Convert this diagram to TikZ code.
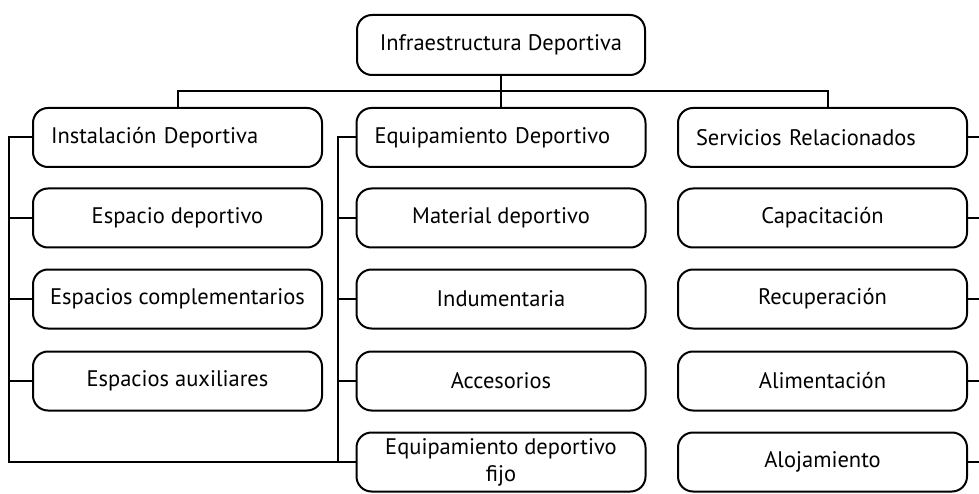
\documentclass[tikz,border=0pt]{standalone}
\usepackage{fontspec}
\setmainfont{PT Sans}
\def\lstub #1 {\draw (#1.west) -- ++(-23,0);}
\def\mstub #1 {\draw (#1.west) -- ++(-18,0);}
\def\rstub #1 {\draw (#1.east) -- ++(11,0);}

\begin{document}
\begin{tikzpicture}[
x=1pt, y=-1pt, line width=2pt,
box/.style={draw, rounded corners=15pt, minimum width=289pt, minimum height=59pt, font=\fontsize{22.5}{25}\selectfont, align=center},
head/.style={box, text width=253pt, inner xsep=18pt, align=left},
]
\useasboundingbox (0,0) rectangle (979,494);

\node[box, minimum width=288pt, minimum height=60pt] at (501,45) (top) {Infraestructura Deportiva};

\node[head] at (177.5,137.5) (inst) {Instalación Deportiva};
\node[box] at (177.5,218) (esp) {Espacio deportivo};
\node[box] at (177.5,299) (comp) {Espacios complementarios};
\node[box] at (177.5,381) (aux) {Espacios auxiliares};

\node[head] at (501,137.5) (equip) {Equipamiento Deportivo};
\node[box] at (501,218) (mat) {Material deportivo};
\node[box] at (501,299) (ind) {Indumentaria};
\node[box] at (501,381) (acc) {Accesorios};
\node[box, inner ysep=1pt, font=\fontsize{22.5}{27}\selectfont] at (501,462) (fijo) {Equipamiento deportivo\\fijo};

\node[head] at (822.5,137.5) (serv) {Servicios Relacionados};
\node[box] at (822.5,218) (cap) {Capacitación};
\node[box] at (822.5,299) (rec) {Recuperación};
\node[box] at (822.5,381) (ali) {Alimentación};
\node[box] at (822.5,462) (alo) {Alojamiento};

% Top bar:
\draw (top.south) -- (equip.north);
\draw (inst.north) -- ++(0,-16) -| ([xshift=5.5pt]serv.north);

% Left spines:
\draw (inst.west) -- ++(-23,0) |- (fijo.west);
\draw (equip.west) -- ++(-18,0) |- (fijo.west);

\lstub{esp}
\lstub{comp}
\lstub{aux}
\mstub{mat}
\mstub{ind}
\mstub{acc}

% Right stubs:
\rstub{serv}
\rstub{cap}
\rstub{rec}
\rstub{ali}
\rstub{alo}
\end{tikzpicture}
\end{document}
